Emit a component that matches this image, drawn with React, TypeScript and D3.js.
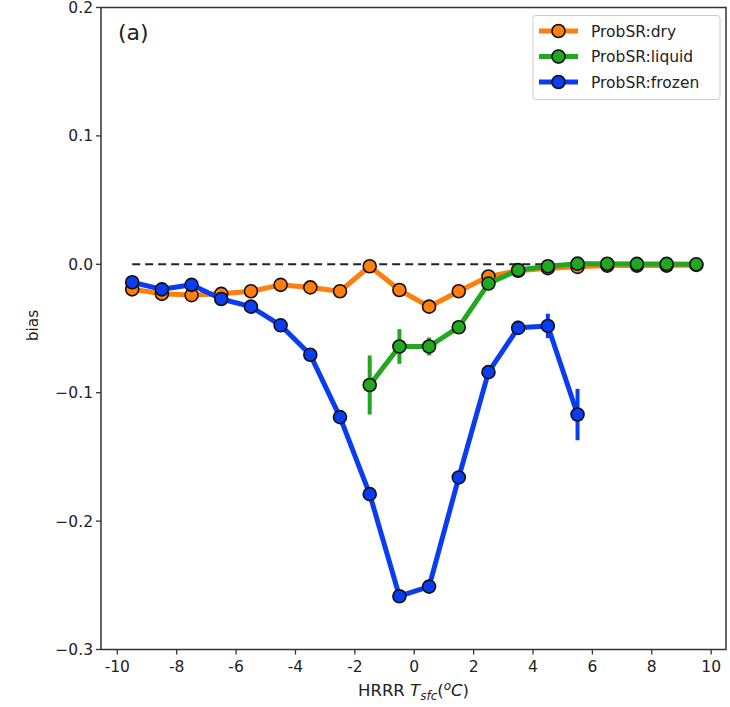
import React from "react";
import * as d3 from "d3";

const xs = [-9.5, -8.5, -7.5, -6.5, -5.5, -4.5, -3.5, -2.5, -1.5, -0.5, 0.5, 1.5, 2.5, 3.5, 4.5, 5.5, 6.5, 7.5, 8.5, 9.5];

const dryY = [-0.0195, -0.023, -0.024, -0.023, -0.021, -0.016, -0.018, -0.021, -0.0015, -0.020, -0.033, -0.021, -0.0095, -0.005, -0.003, -0.002, -0.001, -0.001, -0.001, -0.0005];
const dryErr = [0.001, 0.001, 0.001, 0.001, 0.001, 0.001, 0.001, 0.001, 0.002, 0.002, 0.002, 0.001, 0.001, 0.001, 0.0005, 0.0005, 0.0005, 0.0005, 0.0005, 0.0005];

const liquidX = [-1.5, -0.5, 0.5, 1.5, 2.5, 3.5, 4.5, 5.5, 6.5, 7.5, 8.5, 9.5];
const liquidY = [-0.094, -0.064, -0.064, -0.049, -0.015, -0.0045, -0.0015, 0.0005, 0.0004, 0.0003, 0.0003, 0.0];
const liquidErr = [0.023, 0.0135, 0.007, 0.002, 0.002, 0.001, 0.001, 0.0005, 0.0005, 0.0005, 0.0005, 0.0005];

const frozenX = [-9.5, -8.5, -7.5, -6.5, -5.5, -4.5, -3.5, -2.5, -1.5, -0.5, 0.5, 1.5, 2.5, 3.5, 4.5, 5.5];
const frozenY = [-0.014, -0.0195, -0.016, -0.027, -0.033, -0.0475, -0.0705, -0.119, -0.179, -0.2585, -0.251, -0.166, -0.084, -0.0495, -0.048, -0.117];
const frozenErr = [0.001, 0.001, 0.001, 0.001, 0.001, 0.001, 0.001, 0.001, 0.002, 0.002, 0.002, 0.002, 0.003, 0.0055, 0.0095, 0.02];

const xTicks = [-10, -8, -6, -4, -2, 0, 2, 4, 6, 8, 10];
const yTicks = [0.2, 0.1, 0.0, -0.1, -0.2, -0.3];

const seriesNames = ["ProbSR:dry", "ProbSR:liquid", "ProbSR:frozen"];
const seriesColors = ["#ff7f0e", "#22a722", "#0a3cf2"];

const W = 730;
const H = 707;
const L = 101, R = 726, T = 7.5, B = 649.5;
const FONT = "DejaVu Sans, sans-serif";

export default function App() {
  const x = d3.scaleLinear().domain([-10.55, 10.5]).range([L, R]);
  const y = d3.scaleLinear().domain([-0.3, 0.2]).range([B, T]);
  const line = d3.line<[number, number]>().x((d) => x(d[0])).y((d) => y(d[1]));

  const series = [
    { name: seriesNames[0], color: seriesColors[0], xs: xs, ys: dryY, err: dryErr },
    { name: seriesNames[1], color: seriesColors[1], xs: liquidX, ys: liquidY, err: liquidErr },
    { name: seriesNames[2], color: seriesColors[2], xs: frozenX, ys: frozenY, err: frozenErr },
  ];

  const fmtY = (v: number) => {
    const s = v.toFixed(1);
    return v < 0 ? "\u2212" + s.slice(1) : s;
  };

  return (
    <svg width={W} height={H} style={{ position: "absolute", left: 0, top: 0, background: "#fff" }} fontFamily={FONT}>
      <rect x={0} y={0} width={W} height={H} fill="#fff" />
      <line x1={x(-9.5)} x2={x(9.5)} y1={y(0)} y2={y(0)} stroke="#222" strokeWidth={2} strokeDasharray="8,5" />
      {series.map((s, si) => {
        const pts: [number, number][] = s.xs.map((xv, i) => [xv, s.ys[i]]);
        return (
          <g key={si}>
            <path d={line(pts) || ""} fill="none" stroke={s.color} strokeWidth={5} strokeLinejoin="round" />
            {pts.map((p, i) => (
              <line key={"e" + i} x1={x(p[0])} x2={x(p[0])} y1={y(p[1] - s.err[i])} y2={y(p[1] + s.err[i])} stroke={s.color} strokeWidth={4} />
            ))}
            {pts.map((p, i) => (
              <circle key={"m" + i} cx={x(p[0])} cy={y(p[1])} r={6.5} fill={s.color} stroke="#111" strokeWidth={1.6} />
            ))}
          </g>
        );
      })}
      <rect x={L} y={T} width={R - L} height={B - T} fill="none" stroke="#333" strokeWidth={1.5} />
      {xTicks.map((t) => (
        <g key={"xt" + t}>
          <line x1={x(t)} x2={x(t)} y1={B} y2={B + 5} stroke="#333" strokeWidth={1.3} />
          <text x={x(t)} y={B + 22} textAnchor="middle" fontSize={15.5} fill="#222">{String(t)}</text>
        </g>
      ))}
      {yTicks.map((t) => (
        <g key={"yt" + t}>
          <line x1={L - 5} x2={L} y1={y(t)} y2={y(t)} stroke="#333" strokeWidth={1.3} />
          <text x={L - 8} y={y(t) + 5.5} textAnchor="end" fontSize={15.5} fill="#222">{fmtY(t)}</text>
        </g>
      ))}
      <text x={0} y={0} transform={`translate(38, ${(T + B) / 2 - 3}) rotate(-90)`} textAnchor="middle" fontSize={15.5} fill="#222">bias</text>
      <text x={(L + R) / 2} y={696} textAnchor="middle" fontSize={16.5} fill="#222">
        HRRR <tspan fontStyle="italic">T</tspan><tspan fontStyle="italic" fontSize={12} dy={4}>sfc</tspan><tspan dy={-4}>(</tspan><tspan fontStyle="italic" fontSize={12} dy={-6}>o</tspan><tspan fontStyle="italic" dy={6}>C</tspan><tspan>)</tspan>
      </text>
      <text x={118} y={40} fontSize={22} fill="#222">(a)</text>
      <rect x={533} y={15.5} width={187} height={84} rx={3} fill="#fff" stroke="#ccc" strokeWidth={1} />
      {series.map((s, i) => {
        const cy = 31 + i * 25.5;
        return (
          <g key={"lg" + i}>
            <line x1={539} x2={578} y1={cy} y2={cy} stroke={s.color} strokeWidth={5} />
            <line x1={558.5} x2={558.5} y1={cy - 7} y2={cy + 7} stroke={s.color} strokeWidth={4} />
            <circle cx={558.5} cy={cy} r={6.5} fill={s.color} stroke="#111" strokeWidth={1.6} />
            <text x={591} y={cy + 5.5} fontSize={15.5} fill="#222">{s.name}</text>
          </g>
        );
      })}
    </svg>
  );
}
